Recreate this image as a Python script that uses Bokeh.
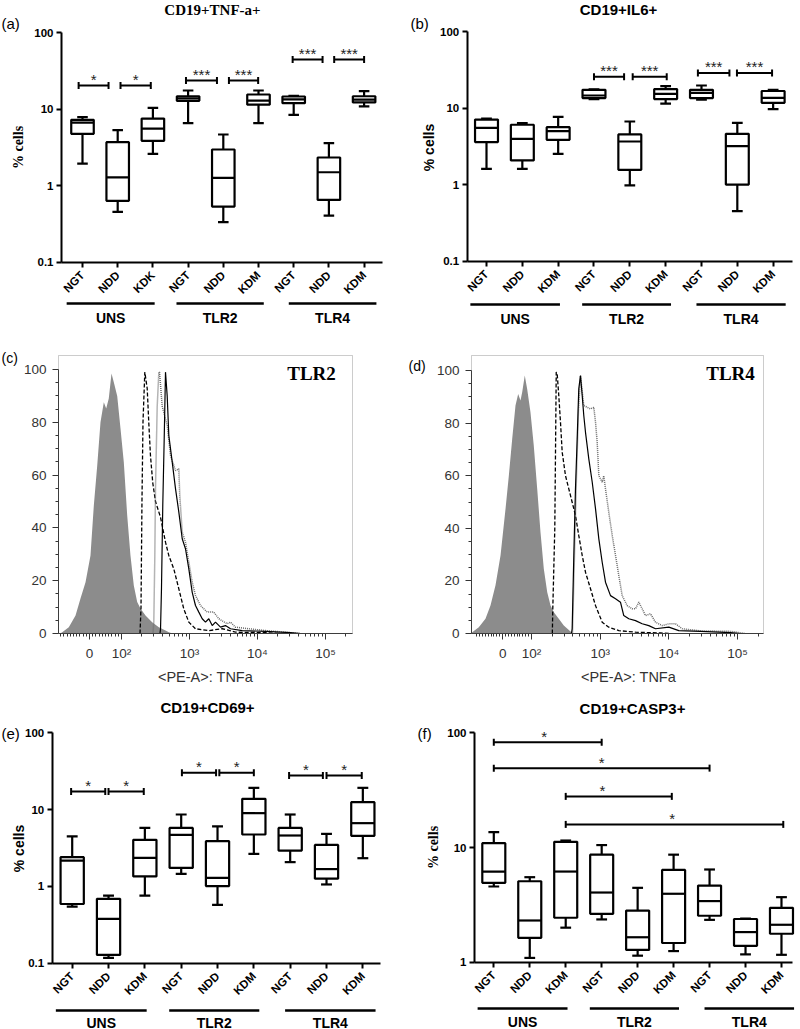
import math
from bokeh.plotting import figure
from bokeh.layouts import column, row
from bokeh.models import Range1d, LinearAxis, LogAxis, FixedTicker, BoxAnnotation
from bokeh.core.properties import value
from bokeh.embed import file_html
from bokeh.resources import INLINE

SANS = "Liberation Sans"
SERIF = "Liberation Serif"

# ---------------------------------------------------------------- data
GROUPS = ["UNS", "TLR2", "TLR4"]
CATS_A = ["NGT", "NDD", "KDK", "NGT", "NDD", "KDM", "NGT", "NDD", "KDM"]
CATS = ["NGT", "NDD", "KDM"] * 3

# (a) CD19+TNF-a+
A_LO = [1.95, 0.455, 2.61, 6.58, 0.334, 6.58, 8.45, 0.407, 10.9]
A_Q1 = [4.77, 0.634, 3.87, 12.9, 0.534, 11.5, 12.0, 0.653, 12.3]
A_MED = [6.7, 1.29, 5.6, 13.9, 1.27, 13.0, 13.5, 1.5, 13.4]
A_Q3 = [7.28, 3.71, 7.56, 14.8, 2.98, 15.6, 14.7, 2.34, 14.8]
A_HI = [7.9, 5.33, 10.4, 17.6, 4.68, 17.6, 15.0, 3.6, 17.3]
A_BARS = [(0.89, 1.74), (2.08, 2.94), (3.94, 4.82), (5.16, 5.99), (6.97, 7.82), (8.15, 9.0)]
A_BAR_Y = [20.5, 20.5, 23.8, 23.8, 44.8, 44.8]
A_STARS = ["*", "*", "***", "***", "***", "***"]

# (b) CD19+IL6+
B_LO = [1.61, 1.61, 2.52, 13.1, 0.975, 11.4, 12.9, 0.45, 9.68]
B_Q1 = [3.59, 2.07, 3.85, 13.5, 1.56, 13.1, 13.5, 1.0, 11.7]
B_MED = [5.52, 3.96, 4.99, 14.6, 3.66, 15.3, 15.8, 3.18, 13.6]
B_Q3 = [7.07, 6.05, 5.63, 17.3, 4.52, 17.7, 17.3, 4.61, 16.7]
B_HI = [7.3, 6.35, 7.68, 17.5, 6.68, 19.3, 19.7, 6.42, 17.3]
B_BARS = [(4.0, 4.84), (5.08, 6.03), (6.9, 7.78), (7.99, 8.97)]
B_BAR_Y = [25.6, 25.6, 28.8, 28.8]
B_STARS = ["***", "***", "***", "***"]

# (e) CD19+CD69+
E_LO = [0.546, 0.117, 0.76, 1.46, 0.574, 2.65, 2.07, 1.06, 2.33]
E_Q1 = [0.59, 0.128, 1.35, 1.74, 1.01, 4.74, 2.93, 1.26, 4.55]
E_MED = [2.17, 0.378, 2.35, 4.69, 1.29, 8.99, 4.6, 1.68, 6.66]
E_Q3 = [2.4, 0.69, 4.04, 5.78, 3.88, 13.8, 5.78, 3.47, 12.5]
E_HI = [4.47, 0.76, 5.78, 8.63, 6.03, 19.2, 8.63, 4.83, 19.2]
E_BARS = [(0.97, 1.91), (2.0, 2.97), (4.02, 4.96), (5.05, 6.0), (6.97, 7.9), (8.0, 8.97)]
E_BAR_Y = [17.2, 17.2, 30.1, 30.1, 27.8, 27.8]
E_STARS = ["*"] * 6

# (f) CD19+CASP3+
F_LO = [4.57, 1.09, 2.0, 2.36, 1.14, 1.25, 2.34, 1.17, 1.16]
F_Q1 = [4.92, 1.63, 2.44, 2.64, 1.28, 1.47, 2.54, 1.39, 1.77]
F_MED = [6.17, 2.31, 6.17, 4.05, 1.65, 3.95, 3.41, 1.83, 2.12]
F_Q3 = [10.9, 5.08, 11.2, 8.66, 2.82, 6.38, 4.66, 2.38, 2.98]
F_HI = [13.6, 5.51, 11.5, 10.5, 4.45, 8.66, 6.43, 2.4, 3.69]
F_BARS = [(1.0, 4.0), (1.0, 7.0), (3.0, 5.95), (3.0, 9.05)]
F_BAR_Y = [82.9, 49.2, 27.9, 15.9]
F_STARS = ["*"] * 4
F_STAR_X = [2.40, 4.0, 4.02, 5.96]

# (c) TLR2 histograms (x in display decades, y = % of max)
C_GRAY_U = [1.10, 1.128, 1.225, 1.324, 1.397, 1.471, 1.544, 1.593, 1.643, 1.691, 1.740, 1.775, 1.813, 1.853, 1.887,
            1.937, 1.985, 2.034, 2.084, 2.132, 2.181, 2.231, 2.279, 2.353, 2.451, 2.549, 2.647, 2.696, 2.75]
C_GRAY_N = [0, 0.5, 2.4, 6.8, 13.3, 19.4, 29.5, 48.5, 63.6, 80, 87.6, 85.2, 89, 98.5, 95.2,
            90, 77.7, 64.9, 44.7, 29.5, 18.2, 11.9, 9.5, 6.8, 4.3, 2.4, 1.1, 0.5, 0]
C_DASH_U = [2.272, 2.287, 2.301, 2.316, 2.343, 2.378, 2.401, 2.426, 2.46, 2.50, 2.574, 2.647, 2.696, 2.769, 2.843,
            2.916, 2.99, 3.088, 3.284, 3.481, 3.676, 4.118, 4.34]
C_DASH_N = [0, 10, 50, 80, 99, 92.8, 80, 67.4, 57, 50, 44, 34.6, 29.5, 24.5, 16.9,
            9.3, 4.3, 1.8, 1.1, 1.8, 0.5, 0.3, 0]
C_DOT_U = [2.463, 2.475, 2.49, 2.50, 2.525, 2.549, 2.559, 2.599, 2.672, 2.721, 2.794, 2.843, 2.857, 2.893, 2.941,
           2.99, 3.04, 3.088, 3.162, 3.26, 3.357, 3.431, 3.554, 3.603, 3.676, 3.872, 4.118, 4.412, 4.632]
C_DOT_N = [0, 4.3, 29.5, 55, 86, 99, 99, 86, 78.8, 67.4, 61.7, 62.4, 52.3, 38.4, 34.6,
           27, 19.4, 14.4, 10.6, 8.1, 8.1, 5.6, 3.7, 4.3, 2.4, 1.8, 1.1, 0.5, 0]
C_SOLID_U = [2.566, 2.574, 2.588, 2.607, 2.628, 2.647, 2.672, 2.696, 2.746, 2.794, 2.843, 2.893, 2.941, 2.99, 3.04,
             3.088, 3.137, 3.187, 3.235, 3.284, 3.334, 3.382, 3.456, 3.529, 3.603, 3.775, 4.118, 4.485, 4.632]
C_SOLID_N = [0, 1.8, 17, 48.5, 73.8, 99, 90, 75, 64.9, 54.9, 46, 35.9, 32.1, 24.5, 15.6,
             10.6, 8.1, 5.6, 4.3, 5.6, 3.0, 4.3, 2.4, 3.0, 1.8, 1.1, 0.8, 0.3, 0]

# (d) TLR4 histograms
D_GRAY_U = [1.11, 1.137, 1.233, 1.330, 1.403, 1.476, 1.549, 1.622, 1.670, 1.719, 1.767, 1.806, 1.840, 1.865,
            1.902, 1.937, 1.985, 2.033, 2.083, 2.131, 2.179, 2.229, 2.277, 2.325, 2.397, 2.470, 2.568, 2.60]
D_GRAY_N = [0, 0.5, 2.4, 5.6, 10.6, 18.3, 29.7, 47.4, 60, 74, 86.7, 91.1, 88.6, 91.8,
            98.1, 93, 84.1, 71.5, 55, 38.5, 24.6, 15.7, 10.6, 8.1, 5.6, 3.0, 0.8, 0]
D_DASH_U = [2.303, 2.31, 2.339, 2.349, 2.36, 2.374, 2.397, 2.422, 2.447, 2.495, 2.543, 2.592, 2.64, 2.688,
            2.738, 2.786, 2.859, 2.932, 3.029, 3.125, 3.271, 3.514, 3.878, 4.02]
D_DASH_N = [0, 9.4, 39.8, 67.7, 99.4, 98.7, 90.5, 80.3, 68.9, 60, 55, 49.9, 44.9, 37.3,
            29.7, 23.3, 17, 10.6, 4.3, 2.4, 1.1, 0.5, 0.2, 0]
D_SOLID_U = [2.582, 2.592, 2.616, 2.64, 2.665, 2.688, 2.713, 2.738, 2.761, 2.786, 2.834, 2.884, 2.932, 2.980,
             3.029, 3.077, 3.150, 3.223, 3.295, 3.343, 3.416, 3.514, 3.611, 3.707, 3.805, 3.999, 4.144, 4.46,
             4.897, 5.04]
D_SOLID_N = [0, 1.8, 29.7, 55, 74, 93, 98.1, 90.5, 82.9, 76.5, 66.4, 57.5, 47.4, 36,
             27.1, 19.5, 14.4, 13.2, 11.9, 6.8, 5.6, 4.9, 3.7, 3.0, 1.8, 2.4, 1.1, 0.8,
             0.3, 0]
D_DOT_U = [2.597, 2.626, 2.655, 2.684, 2.713, 2.761, 2.811, 2.859, 2.907, 2.932, 2.956, 2.980, 3.029, 3.052,
           3.077, 3.125, 3.175, 3.223, 3.271, 3.32, 3.393, 3.466, 3.514, 3.562, 3.611, 3.659, 3.732, 3.805,
           3.902, 3.999, 4.096, 4.194, 4.46, 4.897, 5.115]
D_DOT_N = [0, 30, 60, 85, 98, 86.7, 86, 85.4, 86, 80.3, 72.7, 60, 57.5, 60,
           55, 46.1, 37.3, 29.7, 22, 14.4, 10.6, 9.4, 9.4, 11.9, 9.4, 6.8, 7.5, 4.3,
           3.0, 3.7, 3.7, 1.8, 1.0, 0.8, 0]

FLOW_TICK_LABELS = ["0", "10²", "10³", "10⁴", "10⁵"]
FLOW_Y_TICKS = [0, 20, 40, 60, 80, 100]

# ---------------------------------------------------------------- layout (image pixel calibration)
GROUP_SPANS = [(0.55, 3.05), (3.67, 6.15), (6.86, 9.35)]

LAY_A = dict(ox=0, oy=0, w=400, h=340, cat1=82.0, step=35.2, y100=32.3, dec=76.47, yax=61.0, xright=382.0,
             title=("CD19+TNF-a+", SERIF, 212, 9), ylab=(SERIF, 18, 147), tag=("(a)", 1, 23),
             gline=303, glabel=317)
LAY_B = dict(ox=400, oy=0, w=400, h=340, cat1=486.0, step=35.83, y100=31.0, dec=76.56, yax=466.7, xright=791.7,
             title=("CD19+IL6+", SANS, 618, 9), ylab=(SANS, 428, 147), tag=("(b)", 410, 23),
             gline=304, glabel=318)
LAY_E = dict(ox=0, oy=686, w=400, h=343, cat1=71.7, step=36.33, y100=732.3, dec=76.8, yax=51.7, xright=380.0,
             title=("CD19+CD69+", SANS, 207, 707), ylab=(SANS, 18, 848), tag=("(e)", 1, 733),
             gline=1010, glabel=1022)
LAY_F = dict(ox=400, oy=686, w=400, h=343, cat1=493.3, step=35.96, y100=732.3, dec=114.7, yax=474.0,
             xright=791.7, title=("CD19+CASP3+", SANS, 632, 708), ylab=(SERIF, 433, 847), tag=("(f)", 417, 733),
             gline=1008, glabel=1021)
LAY_C = dict(ox=0, oy=340, w=400, h=346, d100=121.0, dec=68.0, y0=633.0, ppu=2.64, left=58, right=352, top=355,
             u0=1.53, tag=("(c)", 1, 357), name=("TLR2", 311, 373), xlab=(205, 676))
LAY_D = dict(ox=400, oy=340, w=400, h=346, d100=531.0, dec=68.7, y0=633.0, ppu=2.63, left=471, right=763, top=355,
             u0=1.58, tag=("(d)", 408, 365), name=("TLR4", 730, 373), xlab=(628, 676))


def base_fig(lay, X, Y, log):
    ox, oy, w, h = lay["ox"], lay["oy"], lay["w"], lay["h"]
    p = figure(width=w, height=h, x_range=Range1d(X(ox), X(ox + w)), y_range=Range1d(Y(oy + h), Y(oy)),
               y_axis_type="log" if log else "linear", x_axis_location=None, y_axis_location=None,
               toolbar_location=None, output_backend="svg", min_border=0, title=None)
    p.xgrid.visible = False
    p.ygrid.visible = False
    p.outline_line_color = None
    p.background_fill_color = "white"
    p.border_fill_color = "white"
    return p


def txt(p, x, y, s, size, font=SANS, style="normal", align="center", baseline="middle", angle=0.0,
        color="black"):
    p.text(x=[x], y=[y], text=[s], text_font=value(font), text_font_size=size, text_font_style=style,
           text_align=align, text_baseline=baseline, angle=angle, text_color=color)


def box_panel(lay, cats, lo, q1, med, q3, hi, bars, bar_y, stars, star_x, yticks):
    X = lambda px: 1 + (px - lay["cat1"]) / lay["step"]
    Y = lambda py: 10 ** (2 - (py - lay["y100"]) / lay["dec"])
    p = base_fig(lay, X, Y, True)

    ylabels = {t: ("%g" % t) for t in yticks}
    yax = LogAxis(ticker=FixedTicker(ticks=yticks, minor_ticks=[]), fixed_location=X(lay["yax"]),
                  bounds=(yticks[0], yticks[-1]), major_label_overrides=ylabels)
    xs = list(range(1, 10))
    xax = LinearAxis(ticker=FixedTicker(ticks=xs, minor_ticks=[]), fixed_location=yticks[0],
                     bounds=(X(lay["yax"]), X(lay["xright"])),
                     major_label_overrides={i: s for i, s in zip(xs, cats)},
                     major_label_orientation=math.pi / 4)
    for ax in (yax, xax):
        ax.axis_line_width = 2
        ax.axis_line_color = "black"
        ax.major_tick_line_width = 2
        ax.major_tick_out = 5
        ax.major_tick_in = 0
        ax.minor_tick_line_color = None
        ax.major_label_text_font = SANS
        ax.major_label_text_font_style = "bold"
        ax.major_label_text_font_size = "11.5px"
        ax.major_label_text_color = "black"
    yax.major_label_standoff = 3
    xax.major_label_standoff = 6
    p.add_layout(yax, "left")
    p.add_layout(xax, "below")

    LW = 2.2
    BW, CW = 0.32, 0.15
    p.segment(x0=xs, y0=q3, x1=xs, y1=hi, line_color="black", line_width=LW)
    p.segment(x0=xs, y0=lo, x1=xs, y1=q1, line_color="black", line_width=LW)
    p.segment(x0=[x - CW for x in xs], y0=hi, x1=[x + CW for x in xs], y1=hi, line_color="black", line_width=LW)
    p.segment(x0=[x - CW for x in xs], y0=lo, x1=[x + CW for x in xs], y1=lo, line_color="black", line_width=LW)
    p.quad(left=[x - BW for x in xs], right=[x + BW for x in xs], bottom=q1, top=q3,
           fill_color="white", line_color="black", line_width=LW)
    p.segment(x0=[x - BW for x in xs], y0=med, x1=[x + BW for x in xs], y1=med, line_color="black",
              line_width=LW)

    # significance bars
    f = 10 ** (3.5 / lay["dec"])
    f1 = 10 ** (6.0 / lay["dec"])
    bx0 = [b[0] for b in bars]
    bx1 = [b[1] for b in bars]
    p.segment(x0=bx0, y0=bar_y, x1=bx1, y1=bar_y, line_color="black", line_width=2)
    p.segment(x0=bx0, y0=[y / f for y in bar_y], x1=bx0, y1=[y * f for y in bar_y], line_color="black",
              line_width=2)
    p.segment(x0=bx1, y0=[y / f for y in bar_y], x1=bx1, y1=[y * f for y in bar_y], line_color="black",
              line_width=2)
    if star_x is None:
        star_x = [(a + b) / 2 for a, b in bars]
    p.text(x=star_x, y=[y * f1 for y in bar_y], text=stars, text_font=value(SANS), text_font_size="15px",
           text_align="center", text_baseline="alphabetic", text_color="#222222")

    # group lines and labels
    gy = Y(lay["gline"])
    p.segment(x0=[s[0] for s in GROUP_SPANS], y0=[gy] * 3, x1=[s[1] for s in GROUP_SPANS], y1=[gy] * 3,
              line_color="black", line_width=2.5)
    p.text(x=[(s[0] + s[1]) / 2 for s in GROUP_SPANS], y=[Y(lay["glabel"])] * 3, text=GROUPS,
           text_font=value(SANS), text_font_style="bold", text_font_size="14px", text_align="center",
           text_baseline="middle", text_color="black")

    t, tf, tx, ty = lay["title"]
    txt(p, X(tx), Y(ty), t, "15px", font=tf, style="bold")
    yf, yx, yy = lay["ylab"]
    txt(p, X(yx), Y(yy), "% cells", "14px", font=yf, style="bold", angle=math.pi / 2)
    tg, gx, gyy = lay["tag"]
    txt(p, X(gx), Y(gyy), tg, "15px", align="left")
    return p


def flow_panel(lay, gray_u, gray_n, dash_u, dash_n, dot_u, dot_n, solid_u, solid_n):
    X = lambda px: 2 + (px - lay["d100"]) / lay["dec"]
    Y = lambda py: (lay["y0"] - py) / lay["ppu"]
    p = base_fig(lay, X, Y, False)
    xl, xr = X(lay["left"]), X(lay["right"])
    u0 = lay["u0"]

    p.varea(x=gray_u, y1=0, y2=gray_n, fill_color="#8c8c8c")
    p.line(dash_u, dash_n, line_color="black", line_width=1.3, line_dash="4 2")
    p.line(dot_u, dot_n, line_color="#6a6a6a", line_width=1.5, line_dash="1 1")
    p.line(solid_u, solid_n, line_color="black", line_width=1.2)

    p.add_layout(BoxAnnotation(left=xl, right=xr, bottom=0, top=Y(lay["top"]), fill_color=None,
                               line_color="#555555", line_width=1))

    minors = []
    for v in range(10, 100, 10):
        for s in (-1, 1):
            m = u0 + s * (2 - u0) * v / 100.0
            if m > xl:
                minors.append(m)
    for d in range(2, 6):
        for k in range(2, 10):
            m = d + math.log10(k)
            if m < xr:
                minors.append(m)
    xticks = [u0, 2, 3, 4, 5]
    xax = LinearAxis(ticker=FixedTicker(ticks=xticks, minor_ticks=minors), fixed_location=0, bounds=(xl, xr),
                     major_label_overrides={t: s for t, s in zip(xticks, FLOW_TICK_LABELS)})
    yax = LinearAxis(ticker=FixedTicker(ticks=FLOW_Y_TICKS, minor_ticks=[v for v in range(5, 100, 5) if v % 20]),
                     fixed_location=xl, bounds=(0, 100))
    for ax in (xax, yax):
        ax.axis_line_color = "#333333"
        ax.axis_line_width = 1
        ax.major_tick_line_color = "#333333"
        ax.minor_tick_line_color = "#333333"
        ax.major_tick_out = 6
        ax.major_tick_in = 0
        ax.minor_tick_out = 3
        ax.minor_tick_in = 0
        ax.major_label_text_font = SANS
        ax.major_label_text_font_size = "13.5px"
        ax.major_label_text_color = "#333333"
        ax.major_label_standoff = 6
    p.add_layout(xax, "below")
    p.add_layout(yax, "left")

    tg, gx, gy = lay["tag"]
    txt(p, X(gx), Y(gy), tg, "14px", align="left")
    nm, nx, ny = lay["name"]
    txt(p, X(nx), Y(ny), nm, "19px", font=SERIF, style="bold")
    lx, ly = lay["xlab"]
    txt(p, X(lx), Y(ly), "<PE-A>: TNFa", "14.5px", color="#333333")
    return p


pa = box_panel(LAY_A, CATS_A, A_LO, A_Q1, A_MED, A_Q3, A_HI, A_BARS, A_BAR_Y, A_STARS, None, [0.1, 1, 10, 100])
pb = box_panel(LAY_B, CATS, B_LO, B_Q1, B_MED, B_Q3, B_HI, B_BARS, B_BAR_Y, B_STARS, None, [0.1, 1, 10, 100])
pe = box_panel(LAY_E, CATS, E_LO, E_Q1, E_MED, E_Q3, E_HI, E_BARS, E_BAR_Y, E_STARS, None, [0.1, 1, 10, 100])
pf = box_panel(LAY_F, CATS, F_LO, F_Q1, F_MED, F_Q3, F_HI, F_BARS, F_BAR_Y, F_STARS, F_STAR_X, [1, 10, 100])
pc = flow_panel(LAY_C, C_GRAY_U, C_GRAY_N, C_DASH_U, C_DASH_N, C_DOT_U, C_DOT_N, C_SOLID_U, C_SOLID_N)
pd = flow_panel(LAY_D, D_GRAY_U, D_GRAY_N, D_DASH_U, D_DASH_N, D_DOT_U, D_DOT_N, D_SOLID_U, D_SOLID_N)

layout = column(row(pa, pb), row(pc, pd), row(pe, pf))
open("out.html", "w").write(file_html(layout, INLINE))
